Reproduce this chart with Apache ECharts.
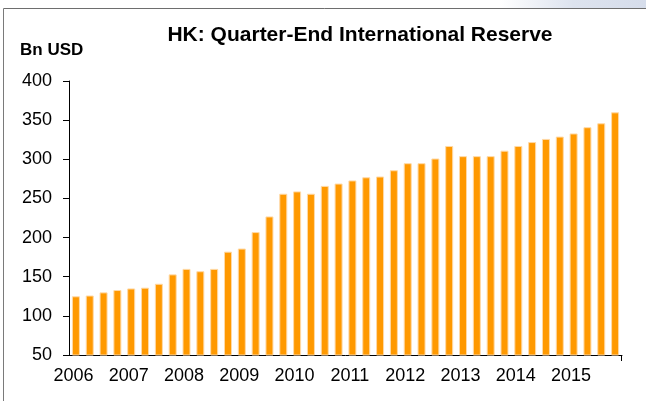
<!DOCTYPE html>
<html>
<head>
<meta charset="utf-8">
<script src="https://cdn.jsdelivr.net/npm/echarts@6/dist/echarts.min.js"></script>
<style>
  html, body { margin: 0; padding: 0; background: #fff; }
  #main { width: 646px; height: 401px; }
</style>
</head>
<body>
<div id="main"></div>
<script>
  var myChart = echarts.init(document.getElementById('main'));

  // quarters 2006Q1 .. 2015Q4
  var years = ['2006', '2007', '2008', '2009', '2010', '2011', '2012', '2013', '2014', '2015'];
  var quarters = ['Q1', 'Q2', 'Q3', 'Q4'];
  var reserve = [
    125, 126, 130, 133, 135, 136, 141, 153,
    160, 157, 160, 182, 186, 207, 227, 256,
    259, 256, 266, 269, 273, 277, 278, 286,
    295, 295, 301, 317, 304, 304, 304, 311,
    317, 322, 326, 329, 333, 341, 346, 360
  ];
  var yTicks = [50, 400, 50]; // min, max, step

  var cats = [];
  years.forEach(function (y) {
    quarters.forEach(function (q) { cats.push(y + q); });
  });

  var font = '"Liberation Sans", Arial, sans-serif';

  var option = {
    backgroundColor: '#fff',
    animation: false,
    title: {
      text: 'HK: Quarter-End International Reserve',
      left: 355,
      textAlign: 'center',
      top: 20,
      textStyle: { fontFamily: font, fontSize: 21, fontWeight: 'bold', color: '#000' }
    },
    graphic: [
      {
        type: 'rect',
        shape: { x: 500, y: 0, width: 146, height: 8 },
        style: {
          fill: new echarts.graphic.LinearGradient(0, 0, 1, 0, [
            { offset: 0, color: 'rgba(221,227,238,0)' },
            { offset: 0.5, color: 'rgba(221,227,238,1)' },
            { offset: 1, color: 'rgba(214,221,235,1)' }
          ])
        }
      },
      { type: 'line', shape: { x1: 3.5, y1: 8.5, x2: 646, y2: 8.5 }, style: { stroke: '#6e6e6e', lineWidth: 1 } },
      { type: 'line', shape: { x1: 3.5, y1: 8.5, x2: 3.5, y2: 401 }, style: { stroke: '#7a7a7a', lineWidth: 1 } },
      { type: 'line', shape: { x1: 621.5, y1: 355, x2: 621.5, y2: 361 }, style: { stroke: '#000', lineWidth: 1 } },
      {
        type: 'text', left: 20, top: 42,
        style: { text: 'Bn USD', fontFamily: font, fontSize: 17, fontWeight: 'bold', fill: '#000' }
      }
    ],
    grid: { left: 69, right: 24, top: 81, bottom: 46, containLabel: false },
    xAxis: {
      type: 'category',
      data: cats,
      boundaryGap: true,
      axisLine: { lineStyle: { color: '#000', width: 1 } },
      axisTick: { interval: 3, length: 6, lineStyle: { color: '#000' } },
      axisLabel: {
        interval: 3,
        margin: 12,
        padding: [0, 5, 0, 0],
        fontFamily: font,
        fontSize: 18,
        color: '#000',
        formatter: function (v) { return v.slice(0, 4); }
      },
      splitLine: { show: false }
    },
    yAxis: {
      type: 'value',
      min: yTicks[0],
      max: yTicks[1],
      interval: yTicks[2],
      axisLine: { show: true, lineStyle: { color: '#000', width: 1 } },
      axisTick: { show: true, length: 6, lineStyle: { color: '#000' } },
      axisLabel: { margin: 17, fontFamily: font, fontSize: 18, color: '#000' },
      splitLine: { show: false }
    },
    series: [{
      name: 'Reserve',
      type: 'bar',
      data: reserve,
      barWidth: 8,
      itemStyle: { color: '#ff9900', borderColor: '#ffd9a6', borderWidth: 1 }
    }]
  };

  myChart.setOption(option);
</script>
</body>
</html>
